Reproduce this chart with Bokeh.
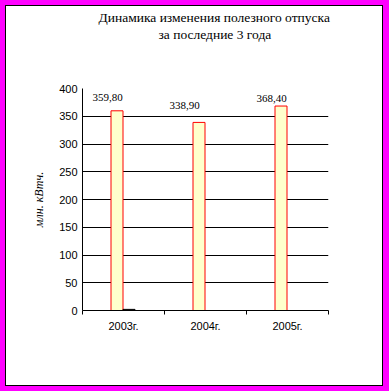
from bokeh.plotting import figure
from bokeh.models import (Range1d, FixedTicker, CustomJSTickFormatter, Title,
                          ColumnDataSource)
from bokeh.embed import file_html
from bokeh.resources import INLINE

# ---- data ----
categories = ["2003г.", "2004г.", "2005г."]
series_main = [359.80, 338.90, 368.40]
series_small = [2.0, 0.0, 0.0]
value_labels = ["359,80", "338,90", "368,40"]
y_ticks = [0, 50, 100, 150, 200, 250, 300, 350, 400]
title_lines = ["Динамика изменения  полезного отпуска", "за последние 3 года"]
y_title = "млн. кВтч."

# ---- style / layout ----
cat_px = 82.0
bar_w = 12 / cat_px
group_shift = -0.5 / cat_px
label_dx = [-9.5, -14.5, -9.5]
label_dy = [13, 17, 8]
title_offsets = [16, 76]
title_standoffs = [0, 0]
title_gap = 30

n = len(categories)
idx = list(range(n))
x1 = [i + 0.5 + group_shift - bar_w / 2 for i in idx]
x2 = [i + 0.5 + group_shift + bar_w / 2 for i in idx]

p = figure(width=376, height=379, output_backend="svg", toolbar_location=None,
           x_range=Range1d(0, n), y_range=Range1d(0, 400),
           min_border_left=76, min_border_right=54,
           min_border_top=82, min_border_bottom=75)
p.styles = {"position": "relative", "left": "6px", "top": "6px",
            "outline": "1px solid black",
            "box-shadow": "0 0 0 8px #FF00FF"}
p.outline_line_color = None
p.background_fill_color = "white"
p.border_fill_color = "white"

src1 = ColumnDataSource(dict(x=x1, top=series_main, lab=value_labels,
                             dx=label_dx, dy=[-d for d in label_dy]))
src2 = ColumnDataSource(dict(x=x2, top=series_small))

p.vbar(x="x", top="top", bottom=0, width=bar_w, source=src1,
       fill_color="#FFFFCC", line_color="#FF0000", line_width=1)
p.vbar(x="x", top="top", bottom=0, width=bar_w, source=src2,
       fill_color="black", line_color="black", line_width=1)

p.text(x="x", y="top", text="lab", source=src1, x_offset="dx", y_offset="dy",
       text_align="center", text_baseline="alphabetic",
       text_font="Liberation Sans", text_font_size="11px", text_color="black")

# grid
p.xgrid.visible = False
p.ygrid.ticker = FixedTicker(ticks=y_ticks)
p.ygrid.grid_line_color = "black"
p.ygrid.grid_line_width = 1

# y axis
ya = p.yaxis[0]
ya.ticker = FixedTicker(ticks=y_ticks)
ya.major_tick_out = 0
ya.major_tick_in = 0
ya.minor_tick_line_color = None
ya.major_label_standoff = 5
ya.major_label_text_font = "Liberation Sans"
ya.major_label_text_font_size = "11px"
ya.major_label_text_color = "black"
ya.axis_line_color = "black"
ya.axis_label = y_title
ya.axis_label_text_font = "Liberation Serif"
ya.axis_label_text_font_style = "italic"
ya.axis_label_text_font_size = "12px"
ya.axis_label_text_color = "black"
ya.axis_label_standoff = 10

# x axis
xa = p.xaxis[0]
xa.ticker = FixedTicker(ticks=[i + 0.5 for i in idx], minor_ticks=[0] + [i + 1 for i in idx])
xa.formatter = CustomJSTickFormatter(args=dict(labels=categories),
                                     code="return labels[Math.floor(tick)];")
xa.major_tick_line_color = None
xa.major_tick_out = 0
xa.major_tick_in = 0
xa.minor_tick_in = 0
xa.minor_tick_out = 4
xa.minor_tick_line_color = "black"
xa.major_label_standoff = 5
xa.major_label_text_font = "Liberation Sans"
xa.major_label_text_font_size = "11px"
xa.major_label_text_color = "black"
xa.axis_line_color = "black"

# spacer between the title block and the plot frame
p.add_layout(Title(text=" ", standoff=title_gap, text_font="Liberation Serif",
                   text_font_size="13.5px"), "above")
# title lines: the last added sits at the top
for k in reversed(range(len(title_lines))):
    p.add_layout(Title(text=title_lines[k], align="left", offset=title_offsets[k],
                       standoff=title_standoffs[k],
                       text_font="Liberation Serif", text_font_size="13.5px",
                       text_font_style="normal", text_color="black"), "above")

open("out.html", "w").write(file_html(p, INLINE))
